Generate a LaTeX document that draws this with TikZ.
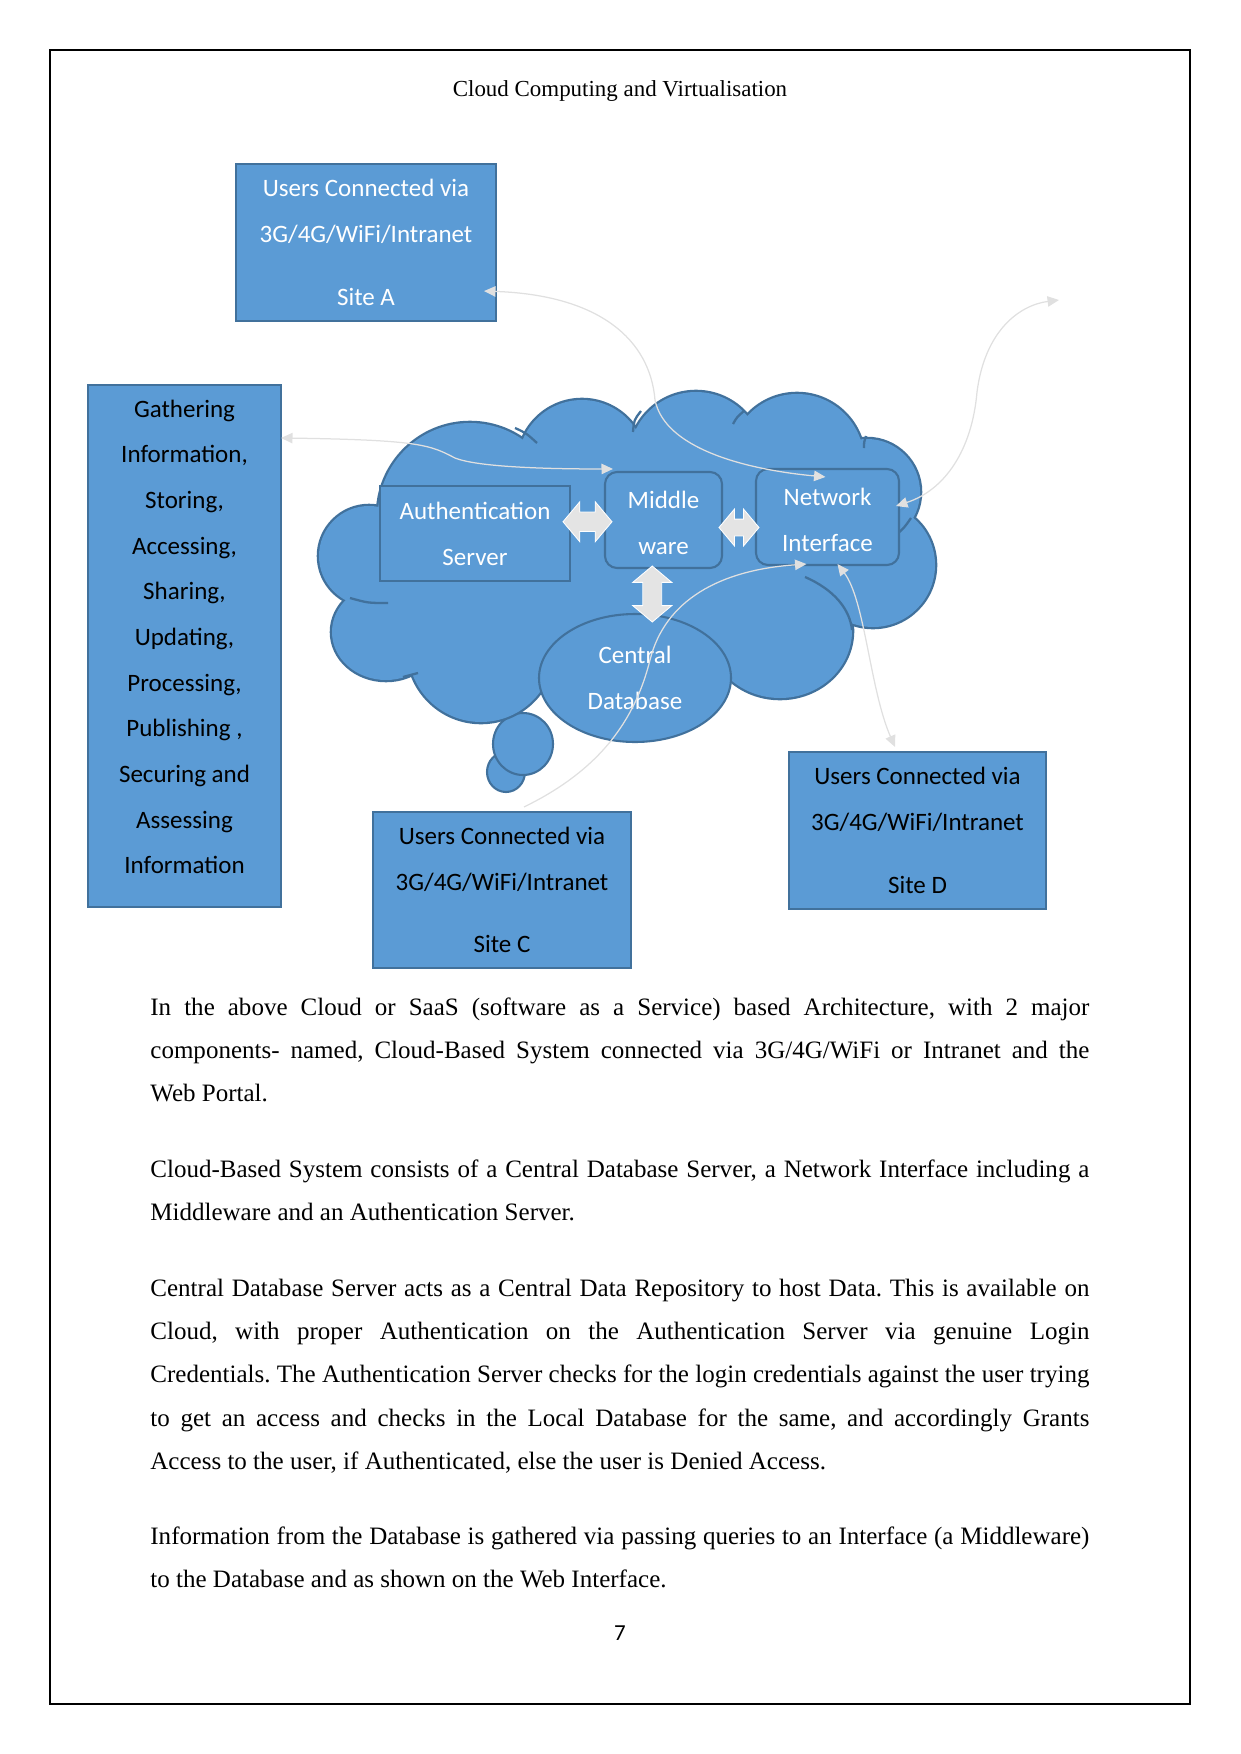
\documentclass[tikz,border=0pt]{standalone}
\usepackage{fontspec}
\setmainfont{Liberation Serif}
\newfontfamily\calib{Carlito}
\usetikzlibrary{shapes.arrows,shapes.geometric,arrows.meta,calc}
\definecolor{cblue}{HTML}{5B9BD5}
\definecolor{cedge}{HTML}{41719C}
\definecolor{lgray}{HTML}{E0E0E0}
\definecolor{agray}{HTML}{E4E4E4}
\def\pxu{0.4797pt}
\tikzset{
  gtip/.tip={Triangle[width=5pt,length=5.5pt]},
  bluebox/.style={draw=cedge, line width=1pt, fill=cblue, inner sep=0pt, align=center,
    font=\calib\fontsize{12}{22}\selectfont},
  roundbox/.style={bluebox, rounded corners=12*\pxu},
  dblarr/.style={shape=double arrow, fill=agray, draw=white, line width=0.4pt,
    inner xsep=0pt, inner ysep=9*\pxu, double arrow tip angle=100,
    double arrow head extend=10*\pxu},
  conn/.style={draw=lgray, line width=0.6pt},
  innerarc/.style={draw=cedge, line width=1.1pt},
  para/.style={anchor=base west, inner sep=0pt, text width=939*\pxu, align=justify,
    font=\fontsize{12}{20.8}\selectfont\frenchspacing},
}
\begin{document}
\begin{tikzpicture}[x=0.4797pt, y=-0.4797pt]
\useasboundingbox (0,0) rectangle (1241,1754);
\draw[line width=0.5pt] (50,50) rectangle (1190,1704);
\node[anchor=base, font=\fontsize{11}{13}\selectfont] (head) at (620,96.5) {Cloud Computing and Virtualisation};

% thought bubbles
\draw[draw=cedge, line width=1pt, fill=cblue] (506,772) ellipse [x radius=19, y radius=20];
\draw[draw=cedge, line width=1pt, fill=cblue] (523,744) ellipse [x radius=30, y radius=31];

% cloud: outline pass then fill pass
\foreach \cx/\cy/\rx/\ry in {470/515/92/92, 582/464/64/64, 696/459/67/67, 797/461/67/67,
  867/492/53/53, 873/565/62/62, 780/631/72/67, 481/649/73/73, 386/632/54/48, 369/556/50/50,
  627/560/246/112}
  \draw[draw=cedge, line width=2.2pt] (\cx,\cy) ellipse [x radius=\rx, y radius=\ry];
\foreach \cx/\cy/\rx/\ry in {470/515/92/92, 582/464/64/64, 696/459/67/67, 797/461/67/67,
  867/492/53/53, 873/565/62/62, 780/631/72/67, 481/649/73/73, 386/632/54/48, 369/556/50/50,
  627/560/246/112}
  \fill[cblue] (\cx,\cy) ellipse [x radius=\rx, y radius=\ry];
% inner arcs of the cloud
\draw[innerarc] (515,428) .. controls (526,433) .. (537,443);
\draw[innerarc] (633,432) .. controls (634,420) .. (641,411);
\draw[innerarc] (733,424) .. controls (737,417) .. (744,411);
\draw[innerarc] (864,448) .. controls (864,442) .. (866,436);
\draw[innerarc] (897,534) .. controls (904,528) .. (911,518);
\draw[innerarc] (350,598) .. controls (368,603) .. (388,603);
\draw[innerarc] (403,677) .. controls (410,675) .. (418,673);
\draw[innerarc] (805,577) .. controls (835,590) and (850,610) .. (852,630);

% nodes
\node[bluebox, text=white, minimum width=260*\pxu, minimum height=157*\pxu] (siteA) at (366,242.5)
  {Users Connected via\\3G/4G/WiFi/Intranet\\[8pt]Site A};
\node[bluebox, minimum width=193*\pxu, minimum height=522*\pxu] (left) at (184.5,646) {};
\node[inner sep=0pt, align=center, font=\calib\fontsize{12}{21.9}\selectfont] (lefttext) at ($(left.center)+(0,-9)$)
  {Gathering\\Information,\\Storing,\\Accessing,\\Sharing,\\Updating,\\Processing,\\Publishing ,\\Securing and\\Assessing\\Information};
\node[bluebox, text=white, minimum width=190*\pxu, minimum height=95*\pxu] (auth) at (475,533.5)
  {Authentication\\Server};
\node[roundbox, text=white, minimum width=117*\pxu, minimum height=96*\pxu] (mid) at (663.5,520) {};
\node[inner sep=0pt, align=center, text=white, font=\calib\fontsize{12}{22}\selectfont] (midtext) at ($(mid.center)+(0,3)$) {Middle\\ware};
\node[roundbox, text=white, minimum width=143*\pxu, minimum height=96*\pxu] (ni) at (827.5,517) {};
\node[inner sep=0pt, align=center, text=white, font=\calib\fontsize{12}{22}\selectfont] (nitext) at ($(ni.center)+(0,3)$) {Network\\Interface};
\node[bluebox, shape=ellipse, text=white, minimum width=192*\pxu, minimum height=128*\pxu] (db) at (635,678)
  {Central\\Database};
\node[bluebox, minimum width=258*\pxu, minimum height=156*\pxu] (siteC) at (502,890)
  {Users Connected via\\3G/4G/WiFi/Intranet\\[8pt]Site C};
\node[bluebox, minimum width=257*\pxu, minimum height=157*\pxu] (siteD) at (917.5,830.5)
  {Users Connected via\\3G/4G/WiFi/Intranet\\[8pt]Site D};

% block arrows
\node[dblarr, minimum height=49*\pxu, minimum width=40*\pxu] (a1) at ($(auth.east)!0.5!(mid.west)+(0,-5)$) {};
\node[dblarr, minimum height=40*\pxu, minimum width=34*\pxu, inner ysep=8*\pxu] (a2) at ($(mid.east)!0.5!(ni.west)+(0,9)$) {};
\node[dblarr, minimum height=56*\pxu, minimum width=39*\pxu, rotate=90] (a3) at ($(mid.south)!0.5!(db.north)+(3,3)$) {};

% connectors
\coordinate (fe) at (1059,300);
\draw[conn, {gtip}-{gtip}] ($(siteA.south east)+(-13,-31)$) .. controls (600,295) and (650,340) .. (655,400)
  .. controls (665,450) and (750,470) .. ($(ni.north)+(-2,9)$);
\draw[conn, {gtip}-{gtip}] ($(left.north east)+(-1,54)$) .. controls (420,440) and (430,445) .. (455,458)
  .. controls (480,468) and (560,469) .. ($(mid.north west)+(9,-2)$);
\draw[conn, {gtip}-{gtip}] ($(ni.east)+(-4,-11)$) .. controls (945,490) and (972,450) .. (977,392)
  .. controls (985,330) and (1020,305) .. (fe);
\draw[conn, -{gtip}] ($(siteC.north)+(22,-4)$) .. controls (600,770) and (635,720) .. (650,660)
  .. controls (665,600) and (720,570) .. ($(ni.south)+(-21,-2)$);
\draw[conn, {gtip}-{gtip}] ($(siteD.north)+(-22.5,-4)$) .. controls (870,690) and (865,600) .. ($(ni.south)+(10,-2)$);

% text
\node[para] (p1) at (150,1015) {In the above Cloud or SaaS (software as a Service) based Architecture, with 2 major\linebreak components- named, Cloud-Based System connected via 3G/4G/WiFi or Intranet and the\linebreak Web Portal.};
\node[para] (p2) at (150,1177) {Cloud-Based System consists of a Central Database Server, a Network Interface including a\linebreak Middleware and an Authentication Server.};
\node[para] (p3) at (150,1296) {Central Database Server acts as a Central Data Repository to host Data. This is available on\linebreak Cloud, with proper Authentication on the Authentication Server via genuine Login\linebreak Credentials. The Authentication Server checks for the login credentials against the user trying\linebreak to get an access and checks in the Local Database for the same, and accordingly Grants\linebreak Access to the user, if Authenticated, else the user is Denied Access.};
\node[para] (p4) at (150,1544) {Information from the Database is gathered via passing queries to an Interface (a Middleware)\linebreak to the Database and as shown on the Web Interface.};
\node[anchor=base, font=\calib\fontsize{11}{13}\selectfont] (pnum) at (620,1640) {7};
\end{tikzpicture}
\end{document}
